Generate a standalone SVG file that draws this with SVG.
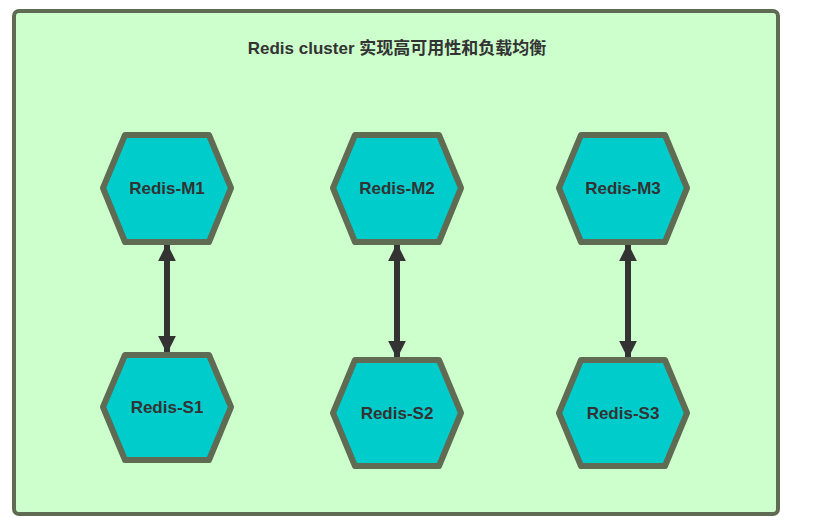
<svg xmlns="http://www.w3.org/2000/svg" width="826" height="526" viewBox="0 0 826 526">
<style>
.hex{fill:#00cccc;stroke:#5f6b52;stroke-width:6;stroke-linejoin:round}
.t{font-family:"Liberation Sans",Arial,sans-serif;font-weight:bold;font-size:17px;fill:#333;text-anchor:middle;dominant-baseline:central}
.c{stroke:#333;stroke-width:6;fill:none;marker-start:url(#a);marker-end:url(#a)}
</style>
<defs><marker id="a" viewBox="0 0 10 10" refX="9" refY="5" markerWidth="3" markerHeight="4.5" orient="auto-start-reverse" markerUnits="strokeWidth"><path d="M0,0L10,5L0,10z" fill="#333"/></marker></defs>
<rect x="14" y="11" width="764" height="503" rx="5" fill="#ccffcc" stroke="#5f6b52" stroke-width="4"/>
<text class="t" x="397" y="48" font-family="'Liberation Sans','Noto Sans CJK SC',sans-serif" style="font-family:'Liberation Sans','Noto Sans CJK SC',sans-serif">Redis cluster 实现高可用性和负载均衡</text>
<g id="connectors">
<path class="c" d="M167,245V352"/>
<path class="c" d="M397,245V357"/>
<path class="c" d="M628,245V357"/>
</g>
<g id="m1"><polygon class="hex" points="103,188 125,135 209,135 231,188 209,242 125,242"/><text class="t" x="167" y="188">Redis-M1</text></g>
<g id="s1"><polygon class="hex" points="103,407 125,355 209,355 231,407 209,460 125,460"/><text class="t" x="167" y="407">Redis-S1</text></g>
<g id="m2"><polygon class="hex" points="333,188 355,135 439,135 461,188 439,242 355,242"/><text class="t" x="397" y="188">Redis-M2</text></g>
<g id="s2"><polygon class="hex" points="333,413 355,360 439,360 461,413 439,466 355,466"/><text class="t" x="397" y="413">Redis-S2</text></g>
<g id="m3"><polygon class="hex" points="559,188 581,135 665,135 687,188 665,242 581,242"/><text class="t" x="623" y="188">Redis-M3</text></g>
<g id="s3"><polygon class="hex" points="559,413 581,360 665,360 687,413 665,466 581,466"/><text class="t" x="623" y="413">Redis-S3</text></g>
</svg>
